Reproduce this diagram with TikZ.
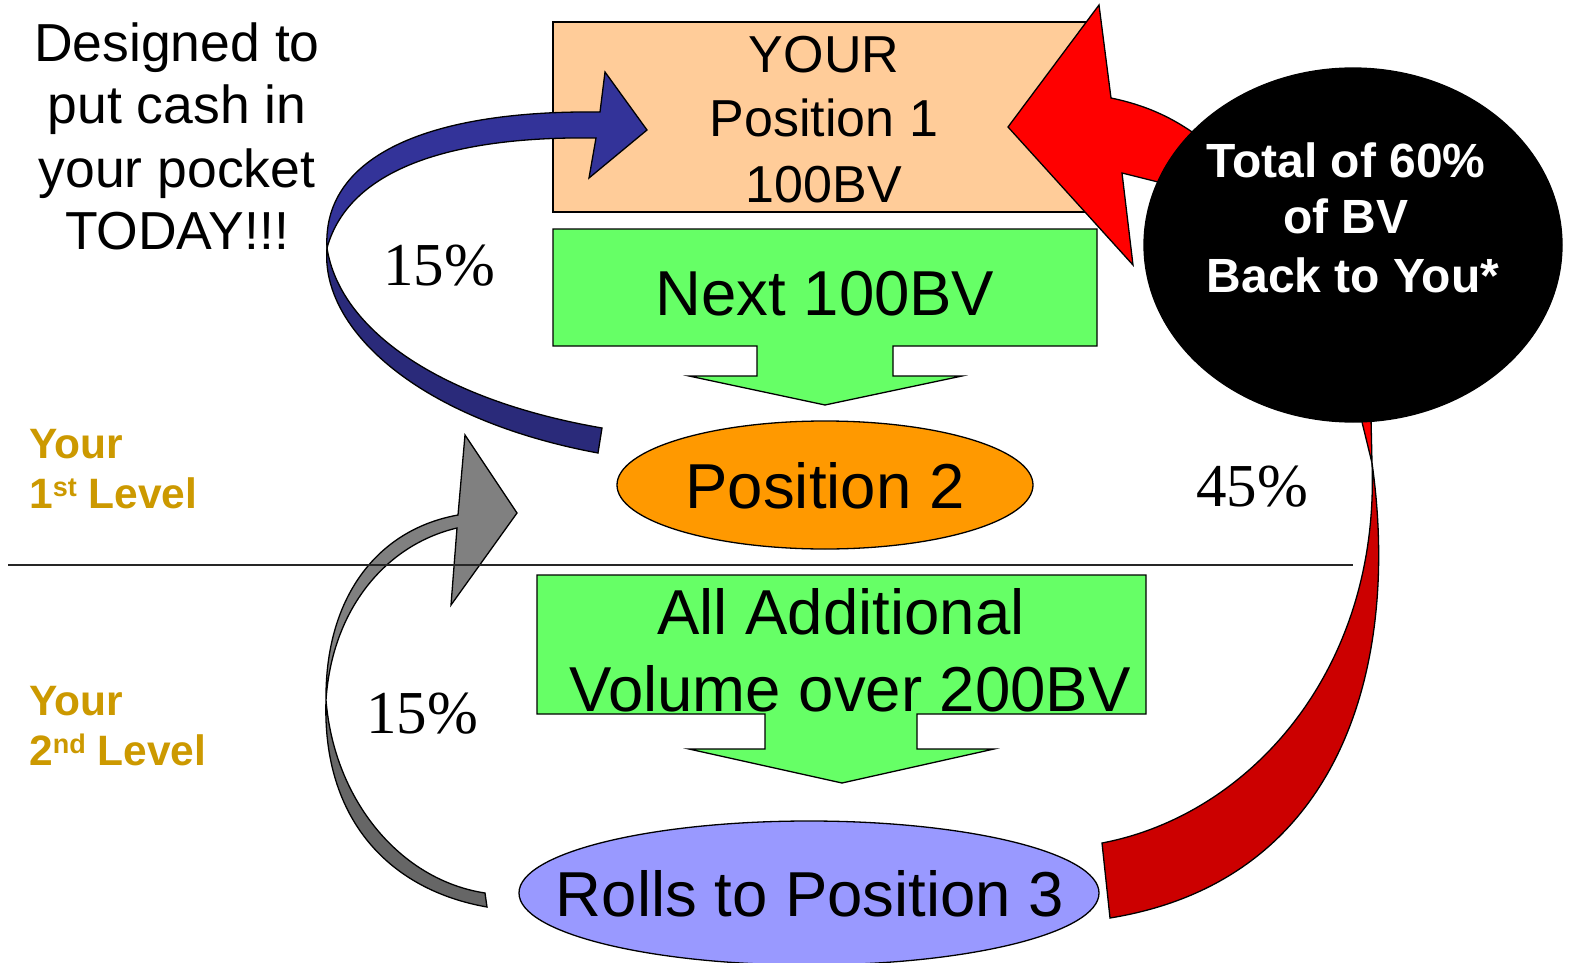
\documentclass[tikz,border=0pt]{standalone}
\usepackage{fontspec}
\setmainfont{Liberation Sans}
\newfontfamily\tnr{Liberation Serif}
\usetikzlibrary{shapes.geometric}
\definecolor{peach}{HTML}{FFCC99}
\definecolor{lgreen}{HTML}{66FF66}
\definecolor{orng}{HTML}{FF9900}
\definecolor{lav}{HTML}{9999FF}
\definecolor{blueA}{HTML}{333399}
\definecolor{blueB}{HTML}{2A2A7A}
\definecolor{grayA}{HTML}{808080}
\definecolor{grayB}{HTML}{666666}
\definecolor{redA}{HTML}{FF0000}
\definecolor{redB}{HTML}{CC0000}
\definecolor{gold}{HTML}{CC9900}
\begin{document}
\begin{tikzpicture}[x=1pt,y=-1pt,
  shp/.style={draw=black,line width=1.3pt,line join=miter},
  txt/.style={inner sep=0pt,anchor=base},
  fbig/.style={font=\fontsize{63.5}{76}\selectfont},
  fmid/.style={font=\fontsize{52}{62}\selectfont},
  fleft/.style={font=\fontsize{53.5}{64}\selectfont},
  fwhite/.style={font=\fontsize{48}{57}\selectfont\bfseries,text=white},
  fgold/.style={font=\fontsize{42.5}{50}\selectfont\bfseries,text=gold,anchor=base west,inner sep=0pt},
  fpct/.style={font=\fontsize{61}{73}\selectfont\tnr,inner sep=0pt,anchor=base},
]
\useasboundingbox (0,0) rectangle (1569,963);
\fill[white] (0,0) rectangle (1569,963);

% boxes and ellipses
\node[shp, fill=peach, minimum width=544pt, minimum height=190pt, inner sep=0pt] (p1box) at (825,117) {};
\draw[shp, fill=lgreen] (553,229) -- (1097,229) -- (1097,346) -- (893,346) -- (893,376) -- (962,376) -- (825,405) -- (689,376) -- (757,376) -- (757,346) -- (553,346) -- cycle;
\node[shp, ellipse, fill=orng, minimum width=416pt, minimum height=128pt, inner sep=0pt] (p2) at (825,485) {};
\draw[shp, fill=lgreen] (537,575) -- (1146,575) -- (1146,714) -- (917,714) -- (917,749) -- (994,749) -- (842,783) -- (689,749) -- (765,749) -- (765,714) -- (537,714) -- cycle;
\node[shp, ellipse, fill=lav, minimum width=580pt, minimum height=144pt, inner sep=0pt] (p3) at (809,893) {};

% blue arrow
\filldraw[shp, fill=blueB] (327,248) .. controls (320,330) and (420,420) .. (598,453) -- (602,428) .. controls (440,400) and (340,330) .. (327,248) -- cycle;
\filldraw[shp, fill=blueA] (327,248) .. controls (322,160) and (420,110) .. (600,112) -- (605,72) -- (647,130) -- (589,178) -- (596,138) .. controls (460,136) and (350,165) .. (327,248) -- cycle;

% gray arrow
\filldraw[shp, fill=grayB] (326,700) .. controls (322,820) and (390,890) .. (487,907) -- (485,893) .. controls (400,880) and (334,800) .. (326,700) -- cycle;
\filldraw[shp, fill=grayA] (458,515) -- (465,435) -- (517,513) -- (451,605) -- (457,528) .. controls (385,545) and (332,610) .. (326,700) .. controls (325,600) and (375,530) .. (458,515) -- cycle;

% red arrow
\filldraw[shp, fill=redB] (1102,843) .. controls (1250,815) and (1380,670) .. (1372,463) .. controls (1400,660) and (1345,880) .. (1110,918) -- cycle;
\filldraw[shp, fill=redA] (1372,463) -- (1361,418) -- (1330,330) -- (1210,195) -- (1122,173) -- (1133,265) -- (1008,127) -- (1099,5) -- (1111,98) .. controls (1150,106) and (1175,120) .. (1195,134) -- (1280,190) -- (1370,300) -- (1371,418) -- cycle;

% black ellipse
\node[shp, ellipse, fill=black, minimum width=418pt, minimum height=354pt, inner sep=0pt] (tot) at (1353,245) {};

% level line
\coordinate (hlA) at (8,565);
\coordinate (hlB) at (1353,565);
\draw[line width=1.5pt, black!85] (hlA) -- (hlB);

% texts
\node[txt, fleft] (d1) at (177,62) {Designed to};
\node[txt, fleft] (d2) at (177,124) {put cash in};
\node[txt, fleft] (d3) at (177,187) {your pocket};
\node[txt, fleft] (d4) at (177,249) {TODAY!!!};

\node[txt, fmid] (y1) at (824,73) {YOUR};
\node[txt, fmid] (y2) at (824,137) {Position 1};
\node[txt, fmid] (y3) at (824,202) {100BV};

\node[txt, fbig] (n1) at (825,315) {Next 100BV};
\node[txt, fbig] (t2) at (825,508) {Position 2};
\node[txt, fbig] (a1) at (841,634) {All Additional};
\node[txt, fbig] (a2) at (850,711) {Volume over 200BV};
\node[txt, fbig] (t3) at (810,916) {Rolls to Position 3};

\node[txt, fwhite] (w1) at (1346,177) {Total of 60\%};
\node[txt, fwhite] (w2) at (1346,233) {of BV};
\node[txt, fwhite] (w3) at (1353,292) {Back to You*};

\node[fgold] (g1) at (29,458) {Your};
\node[fgold] (g2) at (29,508) {1\raisebox{12pt}{\fontsize{27}{27}\selectfont st} Level};
\node[fgold] (g3) at (29,715) {Your};
\node[fgold] (g4) at (29,765) {2\raisebox{12pt}{\fontsize{27}{27}\selectfont nd} Level};

\node[fpct] (pc1) at (439,285) {15\%};
\node[fpct] (pc2) at (422,733) {15\%};
\node[fpct] (pc3) at (1252,506) {45\%};
\end{tikzpicture}
\end{document}
